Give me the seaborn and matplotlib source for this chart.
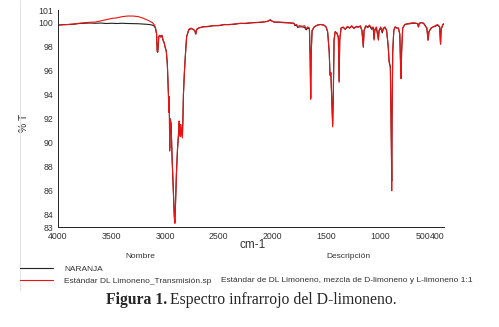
import pandas as pd
import matplotlib.pyplot as plt
import matplotlib.transforms as mtransforms
import seaborn as sns
from matplotlib.lines import Line2D

# Spectrum (wavenumber in cm-1, %T)
wavenumber = [
    4000, 3950, 3900, 3850, 3800, 3750, 3700, 3650, 3600, 3550, 3500, 3450, 3400, 3350,
    3300, 3250, 3200, 3150, 3120, 3100, 3090, 3080, 3075, 3070, 3065, 3060, 3050, 3040,
    3030, 3020, 3010, 3000, 2990, 2980, 2970, 2965, 2962, 2958, 2955, 2945, 2935, 2925,
    2920, 2915, 2910, 2905, 2895, 2885, 2875, 2870, 2865, 2860, 2855, 2850, 2840, 2835,
    2830, 2820, 2810, 2800, 2780, 2760, 2740, 2725, 2715, 2705, 2690, 2650, 2600, 2550,
    2500, 2450, 2400, 2350, 2300, 2250, 2200, 2150, 2100, 2050, 2020, 2010, 1980, 1950,
    1900, 1850, 1800, 1790, 1775, 1765, 1750, 1720, 1700, 1685, 1670, 1655, 1648, 1643,
    1638, 1630, 1610, 1580, 1550, 1520, 1500, 1485, 1470, 1463, 1455, 1445, 1438, 1432,
    1425, 1415, 1400, 1385, 1378, 1372, 1360, 1340, 1320, 1300, 1280, 1260, 1240, 1220,
    1200, 1180, 1165, 1152, 1145, 1130, 1110, 1095, 1075, 1060, 1052, 1045, 1030, 1012,
    1005, 990, 975, 965, 950, 935, 920, 912, 900, 890, 887, 884, 878, 868,
    855, 840, 825, 812, 805, 800, 795, 785, 765, 740, 720, 700, 680, 660,
    645, 638, 630, 610, 590, 575, 560, 548, 540, 520, 500, 480, 460, 440,
    432, 426, 410, 400,
]
t_naranja = [
    99.75, 99.78, 99.8, 99.82, 99.88, 99.9, 99.92, 99.9, 99.92, 99.88, 99.9, 99.88, 99.9, 99.88,
    99.87, 99.86, 99.83, 99.8, 99.75, 99.65, 99.45, 99.0, 97.6, 97.5, 98.0, 98.8, 98.9, 98.75,
    98.9, 98.5, 98.3, 97.9, 97.6, 96.5, 94.0, 92.6, 93.8, 89.5, 92.0, 91.6, 88.6, 86.1,
    85.1, 83.9, 83.4, 84.5, 87.5, 89.5, 90.8, 91.6, 91.0, 90.6, 91.3, 90.9, 90.6, 91.8,
    94.0, 96.0, 97.5, 98.8, 99.35, 99.45, 99.4, 99.3, 99.0, 99.4, 99.5, 99.6, 99.62, 99.7,
    99.7, 99.78, 99.8, 99.82, 99.9, 99.88, 99.93, 99.97, 99.98, 100.05, 100.15, 100.1, 99.98, 100.0,
    99.95, 99.93, 99.9, 99.7, 99.75, 99.55, 99.6, 99.6, 99.55, 99.35, 99.5, 99.45, 97.0, 93.7,
    97.5, 99.3, 99.6, 99.75, 99.8, 99.75, 99.6, 99.2, 97.5, 95.6, 95.8, 93.2, 91.5, 94.0,
    98.5, 99.2, 99.1, 98.7, 95.1, 98.5, 99.5, 99.55, 99.4, 99.6, 99.5, 99.65, 99.5, 99.6,
    99.6, 99.65, 99.3, 97.95, 99.3, 99.65, 99.55, 99.7, 99.4, 99.5, 98.6, 99.3, 99.5, 98.6,
    99.3, 99.5, 99.1, 99.45, 99.55, 99.3, 98.0, 96.8, 96.3, 89.5, 86.8, 92.0, 97.5, 99.3,
    99.6, 99.5, 99.5, 99.0, 96.5, 95.4, 97.5, 99.5, 99.8, 99.85, 99.85, 99.9, 99.9, 99.9,
    99.85, 99.6, 99.9, 99.95, 99.9, 99.7, 99.5, 98.5, 99.2, 99.5, 99.6, 99.65, 99.75, 99.6,
    98.2, 99.4, 99.8, 99.85,
]
t_estandar = [
    99.75, 99.78, 99.8, 99.85, 99.9, 99.95, 99.98, 100.0, 100.1, 100.2, 100.3, 100.35, 100.45, 100.5,
    100.5, 100.45, 100.3, 100.1, 99.95, 99.75, 99.5, 99.0, 97.6, 97.5, 98.0, 98.8, 98.9, 98.75,
    98.9, 98.5, 98.3, 97.9, 97.6, 96.5, 94.0, 92.5, 93.8, 89.3, 92.0, 91.5, 88.5, 86.0,
    85.0, 83.8, 83.3, 84.5, 87.5, 89.5, 90.8, 91.8, 91.0, 90.5, 91.5, 90.8, 90.4, 91.8,
    94.0, 96.0, 97.5, 98.8, 99.4, 99.5, 99.4, 99.3, 99.0, 99.4, 99.5, 99.6, 99.65, 99.7,
    99.72, 99.8, 99.78, 99.85, 99.88, 99.9, 99.95, 99.95, 100.0, 100.05, 100.2, 100.1, 100.0, 100.0,
    99.98, 99.95, 99.9, 99.75, 99.8, 99.6, 99.7, 99.65, 99.7, 99.45, 99.6, 99.5, 97.0, 93.6,
    97.5, 99.3, 99.6, 99.75, 99.8, 99.75, 99.6, 99.2, 97.5, 95.6, 95.8, 93.0, 91.3, 94.0,
    98.5, 99.2, 99.1, 98.8, 95.0, 98.5, 99.5, 99.6, 99.4, 99.65, 99.5, 99.7, 99.45, 99.65,
    99.55, 99.7, 99.3, 97.9, 99.3, 99.7, 99.6, 99.75, 99.5, 99.6, 98.5, 99.4, 99.6, 98.5,
    99.3, 99.6, 99.2, 99.5, 99.6, 99.3, 98.0, 96.7, 96.2, 89.0, 86.0, 92.0, 97.5, 99.3,
    99.6, 99.5, 99.5, 99.0, 96.5, 95.3, 97.5, 99.5, 99.8, 99.85, 99.9, 99.92, 99.95, 99.9,
    99.85, 99.6, 99.9, 99.95, 99.9, 99.7, 99.5, 98.5, 99.2, 99.5, 99.6, 99.7, 99.8, 99.6,
    98.15, 99.4, 99.8, 99.85,
]

series_names = ["NARANJA", "Estándar DL Limoneno_Transmisión.sp"]
descripcion = "Estándar de DL Limoneno, mezcla de D-limoneno y L-limoneno 1:1"
x_ticks = [4000, 3500, 3000, 2500, 2000, 1500, 1000, 500, 400]
y_ticks = [83, 84, 86, 88, 90, 92, 94, 96, 98, 100, 101]

df_naranja = pd.DataFrame({"cm-1": wavenumber, "%T": t_naranja})
df_estandar = pd.DataFrame({"cm-1": wavenumber, "%T": t_estandar})

sns.set_theme(style="white")
plt.rcParams["font.family"] = ["Liberation Sans", "DejaVu Sans"]

fig = plt.figure(figsize=(4.99, 3.27), dpi=100)
ax = fig.add_axes([0.1162, 0.3058, 0.7735, 0.6636])

sns.lineplot(data=df_naranja, x="cm-1", y="%T", ax=ax, color="#222222",
             linewidth=0.8, estimator=None, label=series_names[0])
sns.lineplot(data=df_estandar, x="cm-1", y="%T", ax=ax, color="#ee1111",
             linewidth=0.8, estimator=None, label=series_names[1])

ax.set_xlim(4000, 400)
ax.set_ylim(83, 101)
ax.set_xticks(x_ticks)
ax.set_xticklabels([str(v) for v in x_ticks])
ax.set_yticks(y_ticks)
ax.tick_params(direction="inout", length=2.5, width=0.6, labelsize=6.3,
               colors="#333333", pad=2)
ax.tick_params(axis="x", pad=2.5)
for side in ["top", "right"]:
    ax.spines[side].set_visible(False)
for side in ["left", "bottom"]:
    ax.spines[side].set_color("#222222")
    ax.spines[side].set_linewidth(0.7)

# the last two labels sit side by side as "500400"
lbls = ax.get_xticklabels()
lbls[-2].set_ha("right")
lbls[-2].set_transform(lbls[-2].get_transform()
                       + mtransforms.ScaledTranslation(-2.5 / 100, 0, fig.dpi_scale_trans))
lbls[-1].set_ha("right")

ax.set_xlabel("cm-1", fontsize=8.5, color="#333333")
ax.xaxis.set_label_coords(0.505, -0.055)
ax.set_ylabel("% T", fontsize=7.5, color="#333333")
ax.yaxis.set_label_coords(-0.075, 0.479)

# legend table under the plot
handles, labels = ax.get_legend_handles_labels()
ax.get_legend().remove()
fig.legend(handles, labels, loc="upper left", bbox_to_anchor=(0.04, 0.1896),
           frameon=False, fontsize=6, handlelength=4.0, handletextpad=1.3,
           labelspacing=0.55, borderpad=0, borderaxespad=0, labelcolor="#333333")
fig.text(140 / 499, 1 - 256 / 327, "Nombre", fontsize=6, ha="center", va="center", color="#333333")
fig.text(348 / 499, 1 - 256 / 327, "Descripción", fontsize=6, ha="center", va="center", color="#333333")
fig.text(221 / 499, 1 - 280 / 327, descripcion, fontsize=6, ha="left", va="center", color="#333333")

fig.add_artist(Line2D([20 / 499, 20 / 499], [1, 1 - 290 / 327], color="#e4e4e4", linewidth=0.8))

fig.text(167 / 499, 1 - 300 / 327, "Figura 1.", fontsize=11.3, fontweight="bold",
         family="Liberation Serif", ha="right", va="center")
fig.text(170 / 499, 1 - 300 / 327, "Espectro infrarrojo del D-limoneno.", fontsize=11.3,
         family="Liberation Serif", ha="left", va="center")

fig.savefig("out.png", dpi=100)
